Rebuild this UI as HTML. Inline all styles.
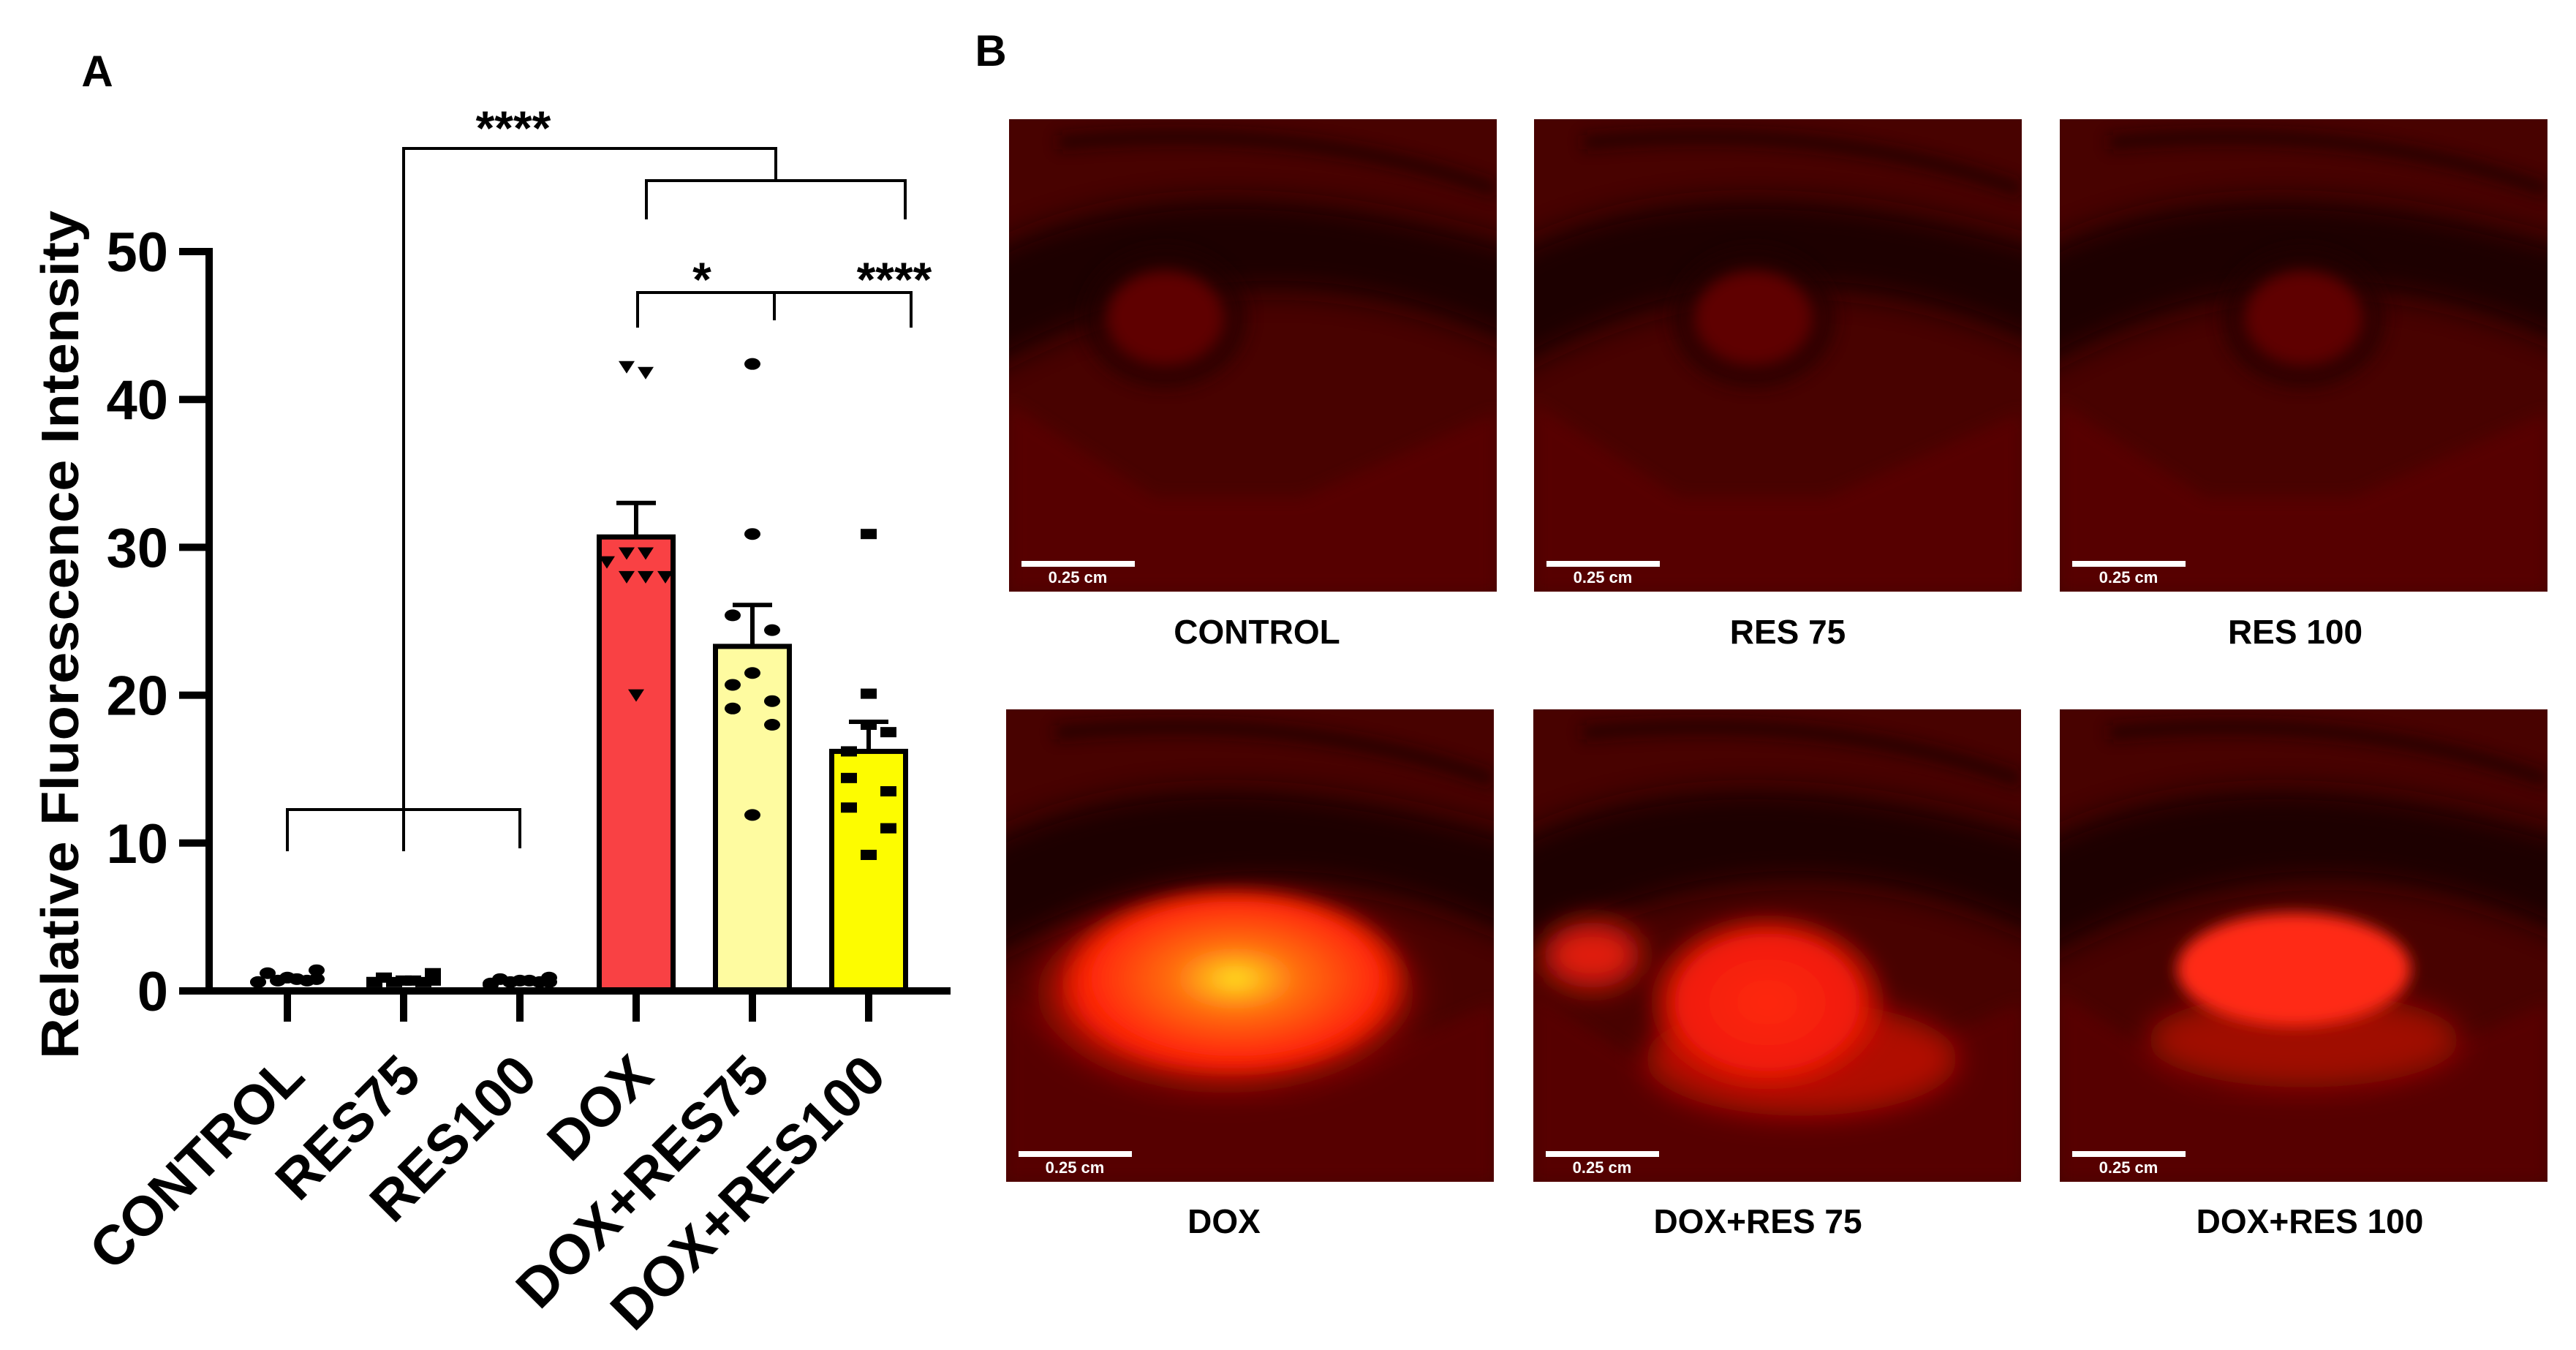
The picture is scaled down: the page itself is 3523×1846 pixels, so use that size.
<!DOCTYPE html>
<html><head><meta charset="utf-8"><style>
html,body{margin:0;padding:0;background:#fff;}
svg{display:block;font-family:"Liberation Sans",Arial,sans-serif;}
</style></head><body>
<svg id="fig" width="3523" height="1846" viewBox="0 0 3523 1846" xmlns="http://www.w3.org/2000/svg">
<defs>
<filter id="blur20" x="-50%" y="-50%" width="200%" height="200%"><feGaussianBlur stdDeviation="20"/></filter>
<filter id="blur10" x="-50%" y="-50%" width="200%" height="200%"><feGaussianBlur stdDeviation="10"/></filter>
<radialGradient id="glowDox"><stop offset="0" stop-color="#ffe020"/><stop offset="0.35" stop-color="#ff7010"/><stop offset="0.8" stop-color="#ff2a08"/><stop offset="1" stop-color="#ff2000" stop-opacity="0"/></radialGradient>
<radialGradient id="glowRed"><stop offset="0" stop-color="#ff2a10"/><stop offset="0.7" stop-color="#f01a08"/><stop offset="1" stop-color="#d01000" stop-opacity="0"/></radialGradient>
</defs>
<g id="chart"></g>
<g id="panelB"></g>
</svg>
<script>
const categories = ["CONTROL","RES75","RES100","DOX","DOX+RES75","DOX+RES100"];
const means = [0.8, 0.7, 0.6, 30.7, 23.3, 16.2];
const sems = [0.1, 0.1, 0.1, 2.3, 2.8, 2.0];
const barColors = ["#ffffff","#ffffff","#ffffff","#f94144","#fefba0","#fdfc00"];
const pointsControl = [0.6,0.7,0.8,1.4,1.2,0.9,0.7,0.6,0.8];
const pointsRes75 = [0.6,0.6,0.7,1.2,0.9,0.7,0.6,0.6,0.7];
const pointsRes100 = [0.4,0.6,0.7,0.9,0.8,0.7,0.6,0.5,0.6];
const pointsDox = [42.2,41.8,29.6,29.6,29.0,28.0,28.0,28.0,20.0];
const pointsDoxRes75 = [42.4,30.9,25.4,24.4,21.5,20.7,19.6,19.1,18.0,11.9];
const pointsDoxRes100 = [30.9,20.1,18.0,17.5,16.2,14.4,13.5,12.4,11.0,9.2];
const yTicks = [0,10,20,30,40,50];

const NS="http://www.w3.org/2000/svg";
function mk(tag, attrs, parent){const e=document.createElementNS(NS,tag);for(const k in attrs)e.setAttribute(k,attrs[k]);parent.appendChild(e);return e;}
const chart=document.getElementById('chart');
const X0=393, DX=159, Y0=1355, PX=20.22;
const xPos=i=>X0+i*DX;
const yPos=v=>Y0-v*PX;
const BW=101;

let t=mk('text',{x:133,y:118,'font-size':60,'font-weight':'bold','text-anchor':'middle'},chart);t.textContent='A';



categories.forEach((c,i)=>{
  if(i<3) return;
  const r=mk('rect',{x:xPos(i)-BW/2,y:yPos(means[i]),width:BW,height:Y0-yPos(means[i]),fill:barColors[i],stroke:'#000','stroke-width':7},chart);
  
  
});
categories.forEach((c,i)=>{
  if(i<3) return;
  const g=mk('g',{stroke:'#000','stroke-width':6},chart);
  
  
  mk('line',{x1:xPos(i),x2:xPos(i),y1:yPos(means[i]),y2:yPos(means[i]+sems[i])},g);
  mk('line',{x1:xPos(i)-27,x2:xPos(i)+27,y1:yPos(means[i]+sems[i]),y2:yPos(means[i]+sems[i])},g);
});
const allPts=[pointsControl,pointsRes75,pointsRes100,pointsDox,pointsDoxRes75,pointsDoxRes100];
const jitter=[[-40,-13,13,40,-27,0,27,-40,40],[-40,-13,13,40,-27,0,27,-40,40],[-40,-13,13,40,-27,0,27,-40,40],
 [-13,13,-13,13,-40,-13,13,40,0],[0,0,-27,27,0,-27,27,-27,27,0],[0,0,0,27,-27,-27,27,-27,27,0]];
allPts.forEach((arr,i)=>{
  arr.forEach((v,k)=>{
    const x=xPos(i)+jitter[i][k], y=yPos(v);
    let e;
    if(i===3){e=mk('path',{d:`M${x-11},${y-8} L${x+11},${y-8} L${x},${y+9} Z`,fill:'#000'},chart);}
    else if(i===5||i===1){e=mk('rect',{x:x-11,y:y-7,width:22,height:14,fill:'#000'},chart);}
    else {e=mk('ellipse',{cx:x,cy:y,rx:11,ry:8,fill:'#000'},chart);}
    
    
  });
});
let ax=mk('g',{stroke:'#000','stroke-width':10,fill:'none'},chart);


mk('line',{x1:286,x2:286,y1:yPos(50)-5,y2:Y0+5},ax);
mk('line',{x1:247,x2:1300,y1:Y0,y2:Y0},ax);
yTicks.forEach(v=>{
  mk('line',{x1:245,x2:286,y1:yPos(v),y2:yPos(v)},ax);
  const tt=mk('text',{x:230,y:yPos(v)+27,'font-size':76,'font-weight':'bold','text-anchor':'end',fill:'#000',stroke:'none'},chart);
  tt.textContent=v;
  
  
});
categories.forEach((c,i)=>{
  mk('line',{x1:xPos(i),x2:xPos(i),y1:Y0,y2:1397},ax);
  const px=xPos(i)+27, py=1475;
  const tt=mk('text',{x:px,y:py,'font-size':76,'font-weight':'bold','text-anchor':'end',transform:`rotate(-45 ${px} ${py})`},chart);
  tt.textContent=c;
  
  
});
t=mk('text',{x:107,y:868,'font-size':72,'font-weight':'bold','text-anchor':'middle',transform:'rotate(-90 107 868)',textLength:1160,lengthAdjust:'spacingAndGlyphs'},chart);
t.textContent='Relative Fluorescence Intensity';



const br=mk('g',{stroke:'#000','stroke-width':4,fill:'none'},chart);


mk('path',{d:`M${xPos(0)},1164 V1107 H${xPos(2)} V1160 M${xPos(1)},1164 V203 H1061 V247 M884,300 V247 H1238 V300`},br);
mk('path',{d:`M${xPos(3)+2},448 V400 H${xPos(5)+58} V448 M1059,438 V400`},br);
[['****',702,198],['*',960,405],['****',1223,405]].forEach(s=>{
  const tx=mk('text',{x:s[1],y:s[2],'font-size':66,'font-weight':'bold','text-anchor':'middle'},chart);
  tx.textContent=s[0];
  
  
});

const pb=document.getElementById('panelB');
t=mk('text',{x:1355,y:90,'font-size':60,'font-weight':'bold','text-anchor':'middle'},pb);t.textContent='B';


const W=667,H=646;
const imgs=[
 {x:1380,y:163,label:'CONTROL',lx:1719,ly:880,type:0},
 {x:2098,y:163,label:'RES 75',lx:2445,ly:880,type:0},
 {x:2817,y:163,label:'RES 100',lx:3139,ly:880,type:0},
 {x:1376,y:970,label:'DOX',lx:1674,ly:1686,type:1},
 {x:2097,y:970,label:'DOX+RES 75',lx:2404,ly:1686,type:2},
 {x:2817,y:970,label:'DOX+RES 100',lx:3159,ly:1686,type:3}];
const defs=document.querySelector('defs');
imgs.forEach((m,i)=>{
  const g=mk('g',{},pb);
  
  
  const cp=mk('clipPath',{id:'cp'+i},defs);
  mk('rect',{x:0,y:0,width:W,height:H},cp);
  const outer=mk('g',{transform:`translate(${m.x},${m.y})`},g);
  const inner=mk('g',{'clip-path':`url(#cp${i})`},outer);
  mk('rect',{x:0,y:0,width:W,height:H,fill:'#480200'},inner);
  mk('path',{d:`M0,${H*0.6} L${W*0.3},${H*0.8} L${W*0.6},${H*0.8} L${W},${H*0.62} L${W},${H} L0,${H} Z`,fill:'#560300',filter:'url(#blur10)'},inner);
  mk('path',{d:`M${-50},${H*0.3} Q${W*0.35},${H*0.05} ${W+50},${H*0.28} L${W+50},${H*0.5} Q${W*0.5},${H*0.2} ${-50},${H*0.55} Z`,fill:'#140000',opacity:0.85,filter:'url(#blur20)'},inner);
  mk('path',{d:`M${W*0.1},${H*0.05} Q${W*0.6},${H*0.0} ${W},${H*0.15}`,stroke:'#140000','stroke-width':20,fill:'none',opacity:0.6,filter:'url(#blur10)'},inner);
  if(m.type===0){
    const cx=i===0?0.32:(i===1?0.45:0.5);
    mk('ellipse',{cx:W*cx,cy:H*0.42,rx:W*0.17,ry:H*0.15,fill:'#240000',opacity:0.6,filter:'url(#blur10)'},inner);
    mk('ellipse',{cx:W*cx,cy:H*0.42,rx:W*0.12,ry:H*0.1,fill:'#5e0400',filter:'url(#blur10)'},inner);
  } else if(m.type===1){
    mk('ellipse',{cx:W*0.45,cy:H*0.6,rx:W*0.42,ry:H*0.22,fill:'url(#glowRed)',filter:'url(#blur20)'},inner);
    mk('ellipse',{cx:W*0.47,cy:H*0.57,rx:W*0.36,ry:H*0.2,fill:'url(#glowDox)',filter:'url(#blur10)'},inner);
  } else if(m.type===2){
    mk('ellipse',{cx:W*0.12,cy:H*0.52,rx:W*0.1,ry:H*0.07,fill:'#e01a08',filter:'url(#blur20)'},inner);
    mk('ellipse',{cx:W*0.55,cy:H*0.74,rx:W*0.32,ry:H*0.12,fill:'#b01004',filter:'url(#blur20)'},inner);
    mk('ellipse',{cx:W*0.48,cy:H*0.62,rx:W*0.26,ry:H*0.2,fill:'url(#glowRed)',filter:'url(#blur10)'},inner);
  } else {
    mk('ellipse',{cx:W*0.5,cy:H*0.7,rx:W*0.32,ry:H*0.1,fill:'#a01004',filter:'url(#blur20)'},inner);
    mk('ellipse',{cx:W*0.48,cy:H*0.55,rx:W*0.24,ry:H*0.12,fill:'#ff2a12',filter:'url(#blur10)'},inner);
  }
  const sb=mk('g',{},outer);
  
  
  mk('rect',{x:17,y:H-42,width:155,height:8,fill:'#fff'},sb);
  const st=mk('text',{x:94,y:H-12,'font-size':22,'font-weight':'bold','text-anchor':'middle',fill:'#fff'},sb);
  st.textContent='0.25 cm';
  const lb=mk('text',{x:m.lx,y:m.ly,'font-size':46,'font-weight':'bold','text-anchor':'middle'},pb);
  lb.textContent=m.label;
  
  
});
</script>
</body></html>
